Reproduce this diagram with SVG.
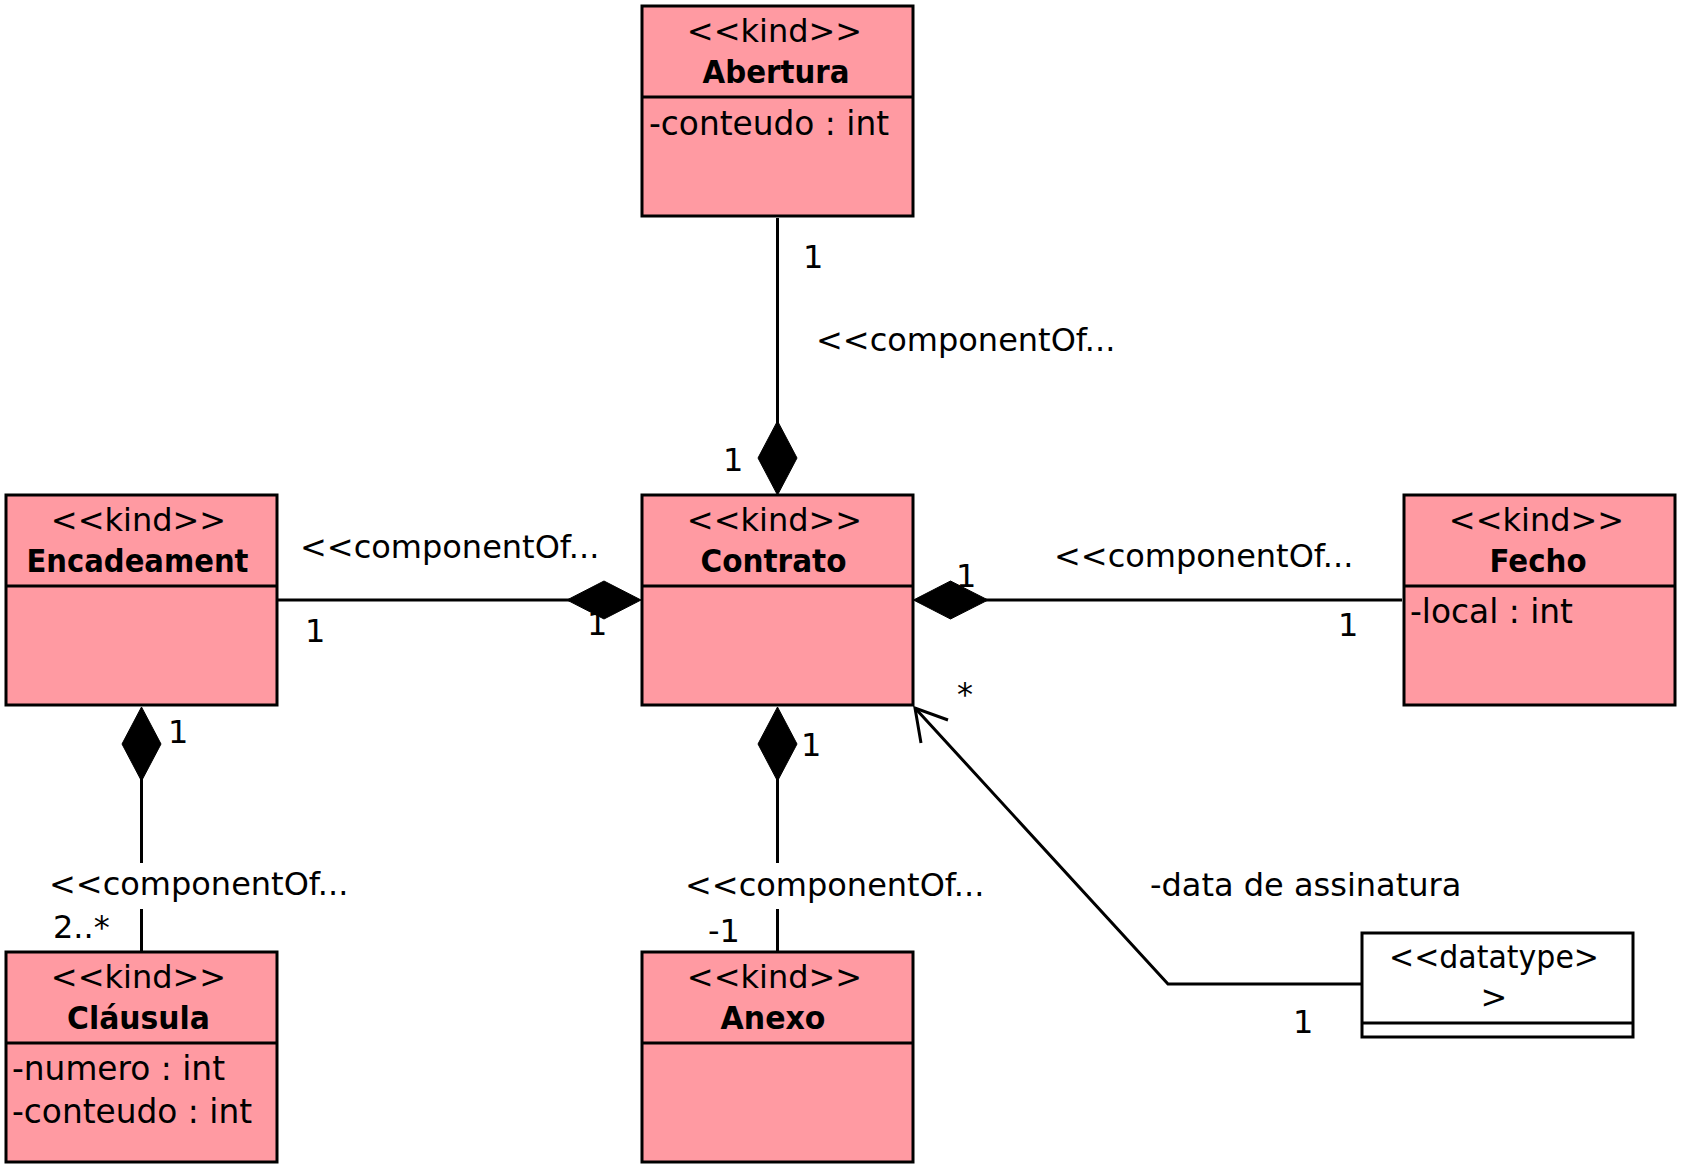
<svg xmlns="http://www.w3.org/2000/svg" width="1686" height="1173" viewBox="0 0 1686 1173">
<style>
text{font-family:"DejaVu Sans","Liberation Sans",sans-serif;font-size:32px;fill:#000}
.box{fill:#FF9AA2;stroke:#000;stroke-width:3}
.dt{fill:#fff;stroke:#000;stroke-width:3}
.div{stroke:#000;stroke-width:3;fill:none}
.st{text-anchor:middle}
.nm{text-anchor:middle;font-weight:bold}
.at{font-size:32.8px}
.ln{stroke:#000;stroke-width:3;fill:none}
.dia{fill:#000;stroke:#000;stroke-width:1}
</style>
<rect width="1686" height="1173" fill="#fff"/>
<g id="connectors">
  <!-- Abertura - Contrato -->
  <line class="ln" x1="777.5" y1="218" x2="777.5" y2="425"/>
  <path class="dia" d="M777.5,495 L758,458 L777.5,421 L797,458 Z"/>
  <text x="803" y="268">1</text>
  <text x="816" y="351">&lt;&lt;componentOf...</text>
  <text x="723" y="471">1</text>
  <!-- Encadeament - Contrato -->
  <text x="300" y="558">&lt;&lt;componentOf...</text>
  <text x="305" y="642">1</text>
  <text x="587" y="635">1</text>
  <line class="ln" x1="278" y1="600" x2="570" y2="600"/>
  <path class="dia" d="M641,600 L604,619 L567,600 L604,581 Z"/>
  <!-- Fecho - Contrato -->
  <line class="ln" x1="985" y1="600" x2="1402" y2="600"/>
  <path class="dia" d="M913.5,600 L950.5,581 L988,600 L950.5,619 Z"/>
  <text x="956" y="587">1</text>
  <text x="1054" y="567">&lt;&lt;componentOf...</text>
  <text x="1338" y="636">1</text>
  <!-- Contrato - Anexo -->
  <path class="dia" d="M777.5,707 L797,744 L777.5,781 L758,744 Z"/>
  <line class="ln" x1="777.5" y1="778" x2="777.5" y2="863"/>
  <line class="ln" x1="777.5" y1="909" x2="777.5" y2="951"/>
  <text x="801" y="756">1</text>
  <text x="685" y="896">&lt;&lt;componentOf...</text>
  <text x="708" y="942">-1</text>
  <!-- Encadeament - Clausula -->
  <path class="dia" d="M141.5,707 L161,744 L141.5,781 L122,744 Z"/>
  <line class="ln" x1="141.5" y1="778" x2="141.5" y2="863"/>
  <line class="ln" x1="141.5" y1="909" x2="141.5" y2="951"/>
  <text x="168" y="743">1</text>
  <text x="49" y="895">&lt;&lt;componentOf...</text>
  <text x="53" y="938">2..*</text>
  <!-- datatype - Contrato -->
  <polyline class="ln" points="1361,984 1168,984 915,708"/>
  <polyline class="ln" points="948,720 915,708 921,743"/>
  <text x="957" y="705">*</text>
  <text x="1150" y="896">-data de assinatura</text>
  <text x="1293" y="1033">1</text>
</g>
<g id="Abertura">
  <rect class="box" x="642" y="6" width="271" height="210"/>
  <line class="div" x1="642" y1="97" x2="913" y2="97"/>
  <text class="st" x="774.5" y="42">&lt;&lt;kind&gt;&gt;</text>
  <text class="nm" x="776" y="83" textLength="147" lengthAdjust="spacingAndGlyphs">Abertura</text>
  <text class="at" x="649" y="135">-conteudo : int</text>
</g>
<g id="Encadeament">
  <rect class="box" x="6" y="495" width="271" height="210"/>
  <line class="div" x1="6" y1="586" x2="277" y2="586"/>
  <text class="st" x="138.5" y="531">&lt;&lt;kind&gt;&gt;</text>
  <text class="nm" x="137.5" y="572" textLength="222" lengthAdjust="spacingAndGlyphs">Encadeament</text>
</g>
<g id="Contrato">
  <rect class="box" x="642" y="495" width="271" height="210"/>
  <line class="div" x1="642" y1="586" x2="913" y2="586"/>
  <text class="st" x="774.5" y="531">&lt;&lt;kind&gt;&gt;</text>
  <text class="nm" x="773.5" y="572" textLength="146" lengthAdjust="spacingAndGlyphs">Contrato</text>
</g>
<g id="Fecho">
  <rect class="box" x="1404" y="495" width="271" height="210"/>
  <line class="div" x1="1404" y1="586" x2="1675" y2="586"/>
  <text class="st" x="1536.5" y="531">&lt;&lt;kind&gt;&gt;</text>
  <text class="nm" x="1538" y="572" textLength="97" lengthAdjust="spacingAndGlyphs">Fecho</text>
  <text class="at" x="1410" y="623">-local : int</text>
</g>
<g id="Clausula">
  <rect class="box" x="6" y="952" width="271" height="210"/>
  <line class="div" x1="6" y1="1043" x2="277" y2="1043"/>
  <text class="st" x="138.5" y="988">&lt;&lt;kind&gt;&gt;</text>
  <text class="nm" x="138.5" y="1029" textLength="143" lengthAdjust="spacingAndGlyphs">Cláusula</text>
  <text class="at" x="12" y="1080">-numero : int</text>
  <text class="at" x="12" y="1123">-conteudo : int</text>
</g>
<g id="Anexo">
  <rect class="box" x="642" y="952" width="271" height="210"/>
  <line class="div" x1="642" y1="1043" x2="913" y2="1043"/>
  <text class="st" x="774.5" y="988">&lt;&lt;kind&gt;&gt;</text>
  <text class="nm" x="773" y="1029" textLength="105" lengthAdjust="spacingAndGlyphs">Anexo</text>
</g>
<g id="datatype">
  <rect class="dt" x="1362" y="933" width="271" height="104"/>
  <line class="div" x1="1362" y1="1023" x2="1633" y2="1023"/>
  <text class="st" x="1494" y="968" textLength="210" lengthAdjust="spacingAndGlyphs">&lt;&lt;datatype&gt;</text>
  <text class="st" x="1494" y="1008">&gt;</text>
</g>
</svg>
